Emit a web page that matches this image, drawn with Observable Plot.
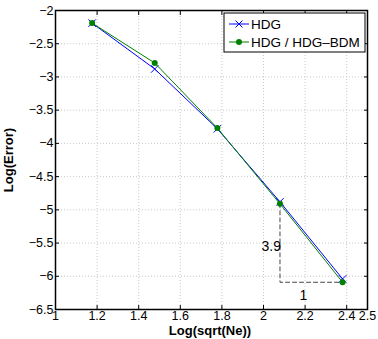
<!DOCTYPE html>
<html><head><meta charset="utf-8">
<script src="https://cdn.jsdelivr.net/npm/d3@7"></script>
<script src="https://cdn.jsdelivr.net/npm/@observablehq/plot@0.6"></script>
<style>
body{margin:0;background:#fff;}
#c{position:relative;width:378px;height:339px;}
svg{font-family:"Liberation Sans",Arial,sans-serif;}
</style></head><body><div id="c"></div>
<script>
const xs = [1.1761, 1.4771, 1.7782, 2.0792, 2.3802];
const hdg = [-2.19, -2.88, -3.78, -4.88, -6.04];
const hdgBdm = [-2.19, -2.79, -3.77, -4.91, -6.09];
const xTicks = [1, 1.2, 1.4, 1.6, 1.8, 2, 2.2, 2.4, 2.5];
const yTicks = [-2, -2.5, -3, -3.5, -4, -4.5, -5, -5.5, -6, -6.5];
const seriesNames = ["HDG", "HDG / HDG\u2013BDM"];
const colors = ["#0000ff", "#008000"];
const slope = {x0: 2.0792, x1: 2.3802, yTop: -4.91, yBot: -6.09, label: "3.9", run: "1"};

const d1 = xs.map((x, i) => ({x, y: hdg[i]}));
const d2 = xs.map((x, i) => ({x, y: hdgBdm[i]}));
const tri = [{x: slope.x0, y: slope.yTop}, {x: slope.x0, y: slope.yBot}, {x: slope.x1, y: slope.yBot}];
const fmt = d => d < 0 ? "\u2212" + Math.abs(d) : String(d);

const plot = Plot.plot({
  width: 378, height: 339,
  marginLeft: 55, marginRight: 11, marginTop: 10, marginBottom: 30,
  style: {fontSize: "12.5px", fontFamily: "Liberation Sans, Arial, sans-serif", color: "#000"},
  x: {domain: [1, 2.5]},
  y: {domain: [-6.5, -2]},
  marks: [
    Plot.ruleX(xTicks, {stroke: "#bbb", strokeDasharray: "1,2", strokeWidth: 0.8}),
    Plot.ruleY(yTicks, {stroke: "#bbb", strokeDasharray: "1,2", strokeWidth: 0.8}),
    Plot.axisX({ticks: xTicks, tickSize: -4, tickPadding: 6, tickFormat: fmt, label: null, fontSize: 12.5}),
    Plot.axisX({anchor: "top", ticks: xTicks, tickSize: -4, tickFormat: () => "", label: null}),
    Plot.axisY({ticks: yTicks, tickSize: -4, tickPadding: 6, tickFormat: fmt, label: null, fontSize: 12.5}),
    Plot.axisY({anchor: "right", ticks: yTicks, tickSize: -4, tickFormat: () => "", label: null}),
    Plot.line(tri, {x: "x", y: "y", stroke: "#444", strokeDasharray: "4,3", strokeWidth: 1}),
    Plot.text([slope.label], {x: slope.x0, y: (slope.yTop + slope.yBot) / 2 - 0.05, text: d => d, textAnchor: "end", dx: 1, fontSize: 14}),
    Plot.text([slope.run], {x: (slope.x0 + slope.x1) / 2, y: slope.yBot, text: d => d, dy: 13, dx: -8, fontSize: 14}),
    Plot.line(d1, {x: "x", y: "y", stroke: colors[0], strokeWidth: 1}),
    Plot.dot(d1, {x: "x", y: "y", symbol: "times", stroke: colors[0], r: 3.5, strokeWidth: 1}),
    Plot.line(d2, {x: "x", y: "y", stroke: colors[1], strokeWidth: 1}),
    Plot.dot(d2, {x: "x", y: "y", fill: colors[1], r: 3}),
    Plot.frame({stroke: "#000", strokeWidth: 1.5})
  ]
});
document.getElementById("c").appendChild(plot);

const svg = d3.select(plot);
// axis titles
svg.append("text").attr("x", 210).attr("y", 335).attr("text-anchor", "middle")
  .attr("font-size", 13).attr("font-weight", "bold").text("Log(sqrt(Ne))");
svg.append("text").attr("transform", "translate(13,160) rotate(-90)").attr("text-anchor", "middle")
  .attr("font-size", 13).attr("font-weight", "bold").text("Log(Error)");
// legend
const lg = svg.append("g").attr("transform", "translate(224,13)");
lg.append("rect").attr("width", 141).attr("height", 39).attr("fill", "#fff").attr("stroke", "#000").attr("stroke-width", 1);
seriesNames.forEach((name, i) => {
  const y = 11 + i * 18;
  lg.append("line").attr("x1", 5).attr("x2", 25).attr("y1", y).attr("y2", y).attr("stroke", colors[i]).attr("stroke-width", 1);
  if (i === 0) {
    lg.append("path").attr("d", `M11.5,${y-3.5}L18.5,${y+3.5}M11.5,${y+3.5}L18.5,${y-3.5}`).attr("stroke", colors[i]);
  } else {
    lg.append("circle").attr("cx", 15).attr("cy", y).attr("r", 3).attr("fill", colors[i]);
  }
  lg.append("text").attr("x", 27).attr("y", y + 5).attr("text-anchor", "start").attr("font-size", 13.5).text(name);
});
</script></body></html>
